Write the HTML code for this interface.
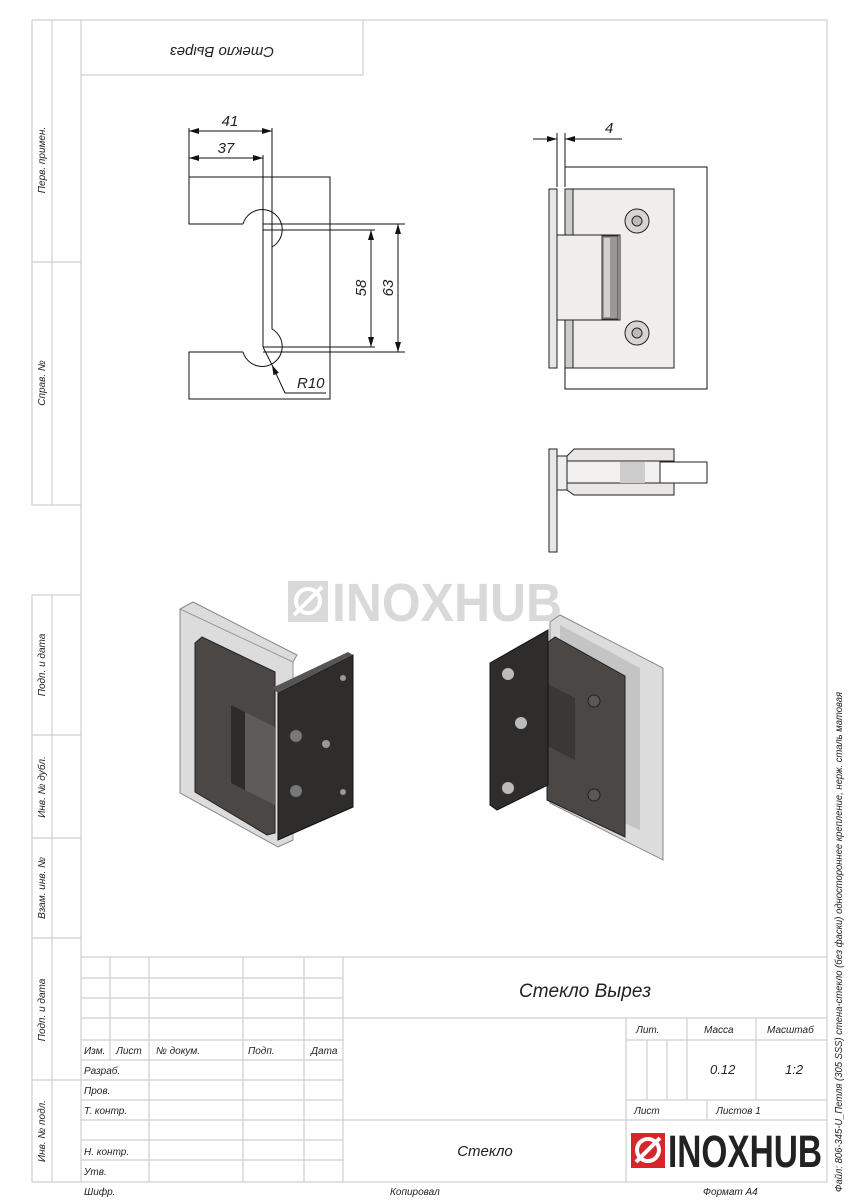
<!DOCTYPE html>
<html><head><meta charset="utf-8"><style>
html,body{margin:0;padding:0;background:#fff}
svg{display:block}
text{font-family:"Liberation Sans",sans-serif;font-style:italic;fill:#222}
.f{fill:none;stroke:#cfcfcf;stroke-width:1.2}
.d{fill:none;stroke:#111;stroke-width:1}
</style></head><body>
<svg width="848" height="1200" viewBox="0 0 848 1200" xmlns="http://www.w3.org/2000/svg">
<defs>
<marker id="a" viewBox="0 0 10 6" refX="10" refY="3" markerWidth="10" markerHeight="6" orient="auto-start-reverse" markerUnits="userSpaceOnUse"><path d="M0,0L10,3L0,6z" fill="#111"/></marker>
</defs>
<rect x="81" y="20" width="746" height="1162" class="f"/>
<path class="f" d="M32,20V505H81M52,20V505M32,262H81M32,20H81
M32,595V1182H81M52,595V1182M32,595H81M32,735H81M32,838H81M32,938H81M32,1080H81"/>
<path class="f" d="M81,75H363V20"/>
<text transform="translate(222,47) rotate(180)" font-size="15" text-anchor="middle">Стекло Вырез</text>
<g font-size="10">
<text transform="translate(45,160) rotate(-90)" text-anchor="middle">Перв. примен.</text>
<text transform="translate(45,383) rotate(-90)" text-anchor="middle">Справ. №</text>
<text transform="translate(45,665) rotate(-90)" text-anchor="middle">Подп. и дата</text>
<text transform="translate(45,787) rotate(-90)" text-anchor="middle">Инв. № дубл.</text>
<text transform="translate(45,888) rotate(-90)" text-anchor="middle">Взам. инв. №</text>
<text transform="translate(45,1010) rotate(-90)" text-anchor="middle">Подп. и дата</text>
<text transform="translate(45,1131) rotate(-90)" text-anchor="middle">Инв. № подл.</text>
</g>
<path class="f" d="M81,957H827M81,978H343M81,998H343M81,1018H827M81,1040H343M81,1060H343M81,1080H343M81,1100H343M81,1120H827M81,1140H343M81,1160H343
M110,957V1060M149,957V1182M243,957V1182M304,957V1182M343,957V1182
M626,1018V1182M626,1040H827M626,1100H827M647,1040V1100M667,1040V1100M687,1018V1100M756,1018V1100M707,1100V1120"/>
<g font-size="10">
<text x="84" y="1054">Изм.</text><text x="116" y="1054">Лист</text><text x="156" y="1054">№ докум.</text><text x="248" y="1054">Подп.</text><text x="311" y="1054">Дата</text>
<text x="84" y="1074">Разраб.</text><text x="84" y="1094">Пров.</text><text x="84" y="1114">Т. контр.</text>
<text x="84" y="1155">Н. контр.</text><text x="84" y="1175">Утв.</text>
<text x="636" y="1033">Лит.</text><text x="704" y="1033">Масса</text><text x="767" y="1033">Масштаб</text>
<text x="634" y="1114">Лист</text><text x="716" y="1114">Листов 1</text>
<text x="84" y="1195">Шифр.</text><text x="390" y="1195">Копировал</text><text x="703" y="1195">Формат A4</text>
</g>
<text x="710" y="1074" font-size="13">0.12</text><text x="785" y="1074" font-size="13">1:2</text>
<text x="585" y="997" font-size="19" text-anchor="middle">Стекло Вырез</text>
<text x="485" y="1156" font-size="15" text-anchor="middle">Стекло</text>
<rect x="631" y="1133" width="34" height="35" fill="#d7262b"/>
<circle cx="648" cy="1150" r="11" fill="none" stroke="#fff" stroke-width="4"/>
<path d="M636,1162L660,1138" stroke="#fff" stroke-width="4"/>
<text x="668" y="1167" font-size="45" font-weight="bold" textLength="154" lengthAdjust="spacingAndGlyphs" style="fill:#222;font-style:normal">INOXHUB</text>
<text transform="translate(842,1192) rotate(-90)" font-size="10" textLength="500" lengthAdjust="spacingAndGlyphs">Файл: 806-345-U_Петля (305 SSS) стена-стекло (без фаски) одностороннее крепление, нерж. сталь матовая</text>
<rect x="288" y="581" width="40" height="41" fill="#d9d9d9"/>
<circle cx="308" cy="601" r="12" fill="none" stroke="#fff" stroke-width="4"/>
<path d="M294,615L322,587" stroke="#fff" stroke-width="4"/>
<text x="332" y="621" font-size="54" font-weight="bold" textLength="230" lengthAdjust="spacingAndGlyphs" style="fill:#d9d9d9;font-style:normal">INOXHUB</text>
<path class="d" d="M189,177H330V399H189V352H243M189,177V224H243"/>
<path class="d" d="M243,224A20,20 0 1 1 272,247V329A20,20 0 1 1 243,352"/>
<path class="d" d="M272,128V247M263,155V347M189,128V177M263,224H405M263,230H375M263,347H375M263,352H405"/>
<line x1="189" y1="131" x2="272" y2="131" class="d" marker-start="url(#a)" marker-end="url(#a)"/>
<line x1="189" y1="158" x2="263" y2="158" class="d" marker-start="url(#a)" marker-end="url(#a)"/>
<line x1="371" y1="230" x2="371" y2="347" class="d" marker-start="url(#a)" marker-end="url(#a)"/>
<line x1="398" y1="224" x2="398" y2="352" class="d" marker-start="url(#a)" marker-end="url(#a)"/>
<path class="d" d="M285,393H326"/><line x1="285" y1="393" x2="272" y2="365" class="d" marker-end="url(#a)"/><line x1="272" y1="365" x2="263" y2="347" class="d"/>
<text x="230" y="126" font-size="15" text-anchor="middle">41</text>
<text x="226" y="153" font-size="15" text-anchor="middle">37</text>
<text transform="translate(366,288) rotate(-90)" font-size="15" text-anchor="middle">58</text>
<text transform="translate(393,288) rotate(-90)" font-size="15" text-anchor="middle">63</text>
<text x="297" y="388" font-size="15">R10</text>
<path class="d" d="M565,187V167H707V389H565V368"/>
<rect x="565" y="189" width="109" height="179" fill="#efeeec" stroke="#222"/>
<rect x="565" y="189" width="8" height="179" fill="#cfcdca" stroke="#222"/>
<rect x="549" y="189" width="8" height="179" fill="#e8e7e5" stroke="#222"/>
<rect x="557" y="235" width="63" height="85" fill="#efeeec" stroke="#222"/>
<rect x="602" y="236" width="16" height="83" fill="#9a9896" stroke="#333"/>
<rect x="604" y="238" width="6" height="79" fill="#d2d0ce"/>
<circle cx="637" cy="221" r="12" fill="#d8d5d0" stroke="#222"/><circle cx="637" cy="221" r="5" fill="#bbb" stroke="#222"/>
<circle cx="637" cy="333" r="12" fill="#d8d5d0" stroke="#222"/><circle cx="637" cy="333" r="5" fill="#bbb" stroke="#222"/>
<path class="d" d="M557,133V187M565,133V187M533,139H547M575,139H622"/>
<line x1="545" y1="139" x2="557" y2="139" class="d" marker-end="url(#a)"/>
<line x1="577" y1="139" x2="565" y2="139" class="d" marker-end="url(#a)"/>
<text x="605" y="133" font-size="15">4</text>
<rect x="660" y="462" width="47" height="21" fill="#fff" stroke="#222"/>
<rect x="557" y="456" width="10" height="34" fill="#eee" stroke="#222"/>
<path d="M574,449H674V461H567L567,456Z" fill="#e8e7e5" stroke="#222"/>
<path d="M567,483H674V495H574L567,490Z" fill="#e8e7e5" stroke="#222"/>
<rect x="567" y="461" width="93" height="22" fill="#f1f0ee" stroke="#222"/>
<rect x="620" y="462" width="25" height="21" fill="#ccc"/>
<rect x="549" y="449" width="8" height="103" fill="#e8e7e5" stroke="#222"/>
<path d="M180,609L193,602L297,655L293,662V840L278,847L180,793Z" fill="#dcdcdc" stroke="#888"/>
<path d="M180,609L293,662V840" fill="none" stroke="#999"/>
<path d="M205,640L275,672V700L205,666Z" fill="#b8b8b8"/>
<path d="M195,643L202,637L275,672V833L267,835L195,792Z" fill="#4a4745" stroke="#222"/>
<path d="M231,705L245,712V790L231,783Z" fill="#2e2c2b"/>
<path d="M245,712L275,727V805L245,790Z" fill="#5e5b58"/>
<path d="M278,693L353,655V807L278,840Z" fill="#2f2d2c" stroke="#111"/>
<path d="M278,693L272,688L348,652L353,655Z" fill="#555"/>
<circle cx="296" cy="736" r="6" fill="#777"/><circle cx="296" cy="791" r="6" fill="#777"/>
<circle cx="326" cy="744" r="4" fill="#999"/><circle cx="343" cy="678" r="3" fill="#999"/><circle cx="343" cy="792" r="3" fill="#999"/>
<path d="M550,622L560,615L663,668L663,860L550,803Z" fill="#dcdcdc" stroke="#888"/>
<path d="M560,625L640,668V830L560,795Z" fill="#c4c4c4"/>
<path d="M547,643L555,637L625,676V837L547,800Z" fill="#4a4745" stroke="#222"/>
<path d="M540,680L575,698V760L540,742Z" fill="#3a3836"/>
<path d="M490,663L548,630V785L497,810L490,805Z" fill="#2f2d2c" stroke="#111"/>
<circle cx="508" cy="674" r="6" fill="#bbb"/><circle cx="521" cy="723" r="6" fill="#bbb"/><circle cx="508" cy="788" r="6" fill="#bbb"/>
<circle cx="594" cy="701" r="6" fill="#5a5754" stroke="#222"/><circle cx="594" cy="795" r="6" fill="#5a5754" stroke="#222"/>
</svg>
</body></html>
